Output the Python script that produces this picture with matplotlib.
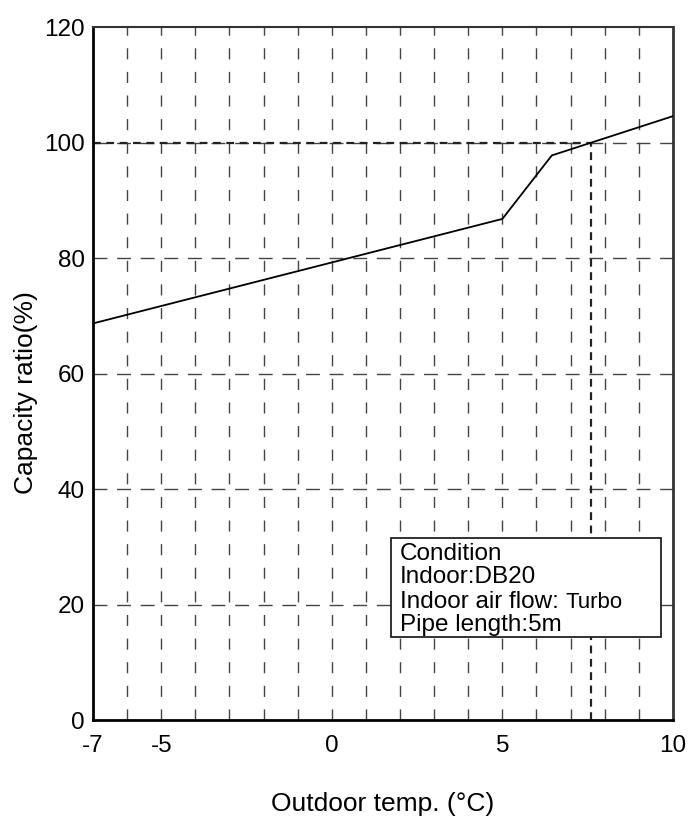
import numpy as np
import matplotlib
matplotlib.use("Agg")
import matplotlib.pyplot as plt
from matplotlib.patches import Rectangle

##### Chart data #####
temp = [-7, 5, 6.45, 10]          # outdoor temp (C)
capacity = [68.7, 86.8, 97.8, 104.6]  # capacity ratio (%)
ref_temp = 7.6                    # temp where capacity reaches 100 %
ref_cap = 100
xticks = [-7, -5, 0, 5, 10]
yticks = [0, 20, 40, 60, 80, 100, 120]
cond_lines = ["Condition", "Indoor:DB20", "Indoor air flow: ", "Pipe length:5m"]
flow_value = "Turbo"

plt.rcParams['font.family'] = ['Liberation Sans', 'DejaVu Sans']
plt.rcParams['axes.unicode_minus'] = False

fig = plt.figure(figsize=(6.92, 8.16), dpi=100)
ax = fig.add_axes([0.1344, 0.1176, 0.838, 0.849])

##### Grid #####
grid_dash = (0, (8, 9))
for xv in range(xticks[0] + 1, xticks[-1]):
    ax.axvline(xv, color='#444444', lw=1.0, linestyle=grid_dash, zorder=1)
for yv in yticks[1:-1]:
    ax.axhline(yv, color='#444444', lw=1.0, linestyle=(0, (10, 7)), zorder=1)

##### Reference lines #####
ax.plot([xticks[0], ref_temp], [ref_cap, ref_cap], color='#222222', lw=1.6,
        linestyle=(0, (3.5, 2.5)), zorder=2)
ax.plot([ref_temp, ref_temp], [0, ref_cap], color='#222222', lw=1.6,
        linestyle=(0, (3.5, 2.5)), zorder=2)

##### Curve #####
ax.plot(temp, capacity, color='black', lw=1.3, zorder=3)

ax.set_xlim(xticks[0], xticks[-1])
ax.set_ylim(yticks[0], yticks[-1])
ax.set_xticks(xticks)
ax.set_yticks(yticks)
ax.tick_params(axis='both', direction='in', length=0, labelsize=17.5, colors='black')
ax.tick_params(axis='x', pad=11)
ax.tick_params(axis='y', pad=6)

ax.set_xlabel("Outdoor temp. (°C)", fontsize=19, labelpad=25)
ax.set_ylabel("Capacity ratio(%)", fontsize=19)
ax.yaxis.set_label_coords(-0.095, 0.473)

for s in ['left', 'bottom']:
    ax.spines[s].set_linewidth(2.0)
    ax.spines[s].set_color('black')
ax.spines['top'].set_linewidth(1.5)
ax.spines['top'].set_color('#333333')
ax.spines['right'].set_linewidth(2.0)
ax.spines['right'].set_color('#333333')

##### Condition box #####
box = Rectangle((0.514, 0.120), 0.465, 0.143, transform=ax.transAxes,
                facecolor='white', edgecolor='#222222', lw=1.3, zorder=4)
ax.add_patch(box)
line_y = [0.240, 0.206, 0.171, 0.137]
for txt, yy in zip(cond_lines, line_y):
    t = ax.text(0.529, yy, txt, transform=ax.transAxes, fontsize=17.5,
                va='center', ha='left', zorder=5)
    if txt.startswith("Indoor air flow"):
        ax.annotate(flow_value, xy=(1, 0), xycoords=t, va='bottom', ha='left',
                    fontsize=16, zorder=5)

fig.savefig("out.png", dpi=100)
